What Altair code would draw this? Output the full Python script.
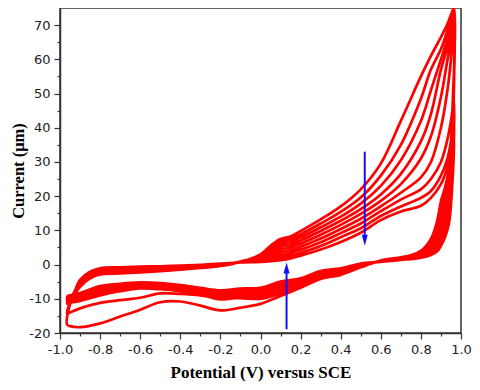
import altair as alt
import pandas as pd

# ---- data ----
# anodic sweep potentials (V) and currents for each cycle (cycle 0 = first)
ANODIC_V = [-0.94, -0.9, -0.85, -0.8, -0.7, -0.6, -0.5, -0.4, -0.3, -0.2, -0.1,
            0.0, 0.05, 0.1, 0.15, 0.2, 0.3, 0.4, 0.5, 0.6, 0.7, 0.8, 0.85, 0.9, 0.93, 0.95]
ANODIC_C0 = [-10.0, -6.5, -4.0, -2.9, -2.6, -2.3, -1.9, -1.5, -1.0, -0.4, 0.8,
             3.0, 5.5, 7.5, 8.2, 9.8, 13.2, 17.0, 22.0, 29.5, 42.0, 55.0, 61.0, 66.5, 70.0, 73.0]
ANODIC_C1 = [-9.8, -6.0, -3.6, -2.5, -2.2, -2.0, -1.7, -1.3, -0.8, -0.2, 0.9,
             2.7, 5.0, 6.8, 7.4, 8.8, 12.0, 15.4, 19.6, 26.0, 35.0, 48.5, 57.0, 63.0, 68.0, 72.0]
ANODIC_C2 = [-9.6, -5.2, -2.8, -1.8, -1.4, -1.2, -1.0, -0.8, -0.5, 0.0, 0.8,
             2.4, 4.4, 6.0, 6.6, 7.9, 10.9, 14.0, 17.8, 23.0, 30.5, 42.0, 51.0, 60.0, 65.5, 70.0]
ANODIC_C3 = [-9.5, -5.0, -2.6, -1.6, -1.3, -1.1, -0.9, -0.7, -0.4, 0.1, 0.8,
             2.1, 3.8, 5.2, 5.8, 7.0, 9.8, 12.8, 16.2, 20.5, 26.5, 36.0, 44.0, 57.0, 63.0, 68.0]
ANODIC_C4 = [-9.4, -4.9, -2.5, -1.5, -1.2, -1.0, -0.8, -0.6, -0.3, 0.1, 0.7,
             1.8, 3.2, 4.4, 5.0, 6.1, 8.7, 11.6, 14.8, 18.6, 23.5, 31.0, 37.5, 49.0, 59.0, 65.5]
ANODIC_C5 = [-9.3, -4.8, -2.4, -1.4, -1.1, -0.9, -0.7, -0.5, -0.2, 0.2, 0.7,
             1.5, 2.6, 3.6, 4.2, 5.2, 7.6, 10.4, 13.4, 17.0, 21.0, 25.5, 30.0, 40.0, 50.0, 60.0]
ANODIC_C6 = [-9.2, -4.7, -2.3, -1.3, -1.0, -0.8, -0.6, -0.4, -0.2, 0.2, 0.6,
             1.2, 2.0, 2.8, 3.4, 4.3, 6.5, 9.2, 12.0, 15.6, 19.0, 22.0, 25.0, 30.0, 36.0, 42.0]
ANODIC_C7 = [-9.1, -4.6, -2.2, -1.2, -0.9, -0.7, -0.5, -0.4, -0.1, 0.2, 0.6,
             1.0, 1.5, 2.0, 2.6, 3.4, 5.4, 8.0, 10.6, 14.2, 17.0, 19.5, 21.5, 26.0, 30.5, 36.0]
ANODIC_C8 = [-9.0, -4.5, -2.1, -1.1, -0.8, -0.6, -0.5, -0.3, -0.1, 0.3, 0.6,
             0.8, 1.0, 1.3, 1.8, 2.6, 4.4, 6.6, 9.3, 13.0, 15.5, 17.2, 19.5, 23.5, 28.0, 32.5]

# cathodic (reverse) sweep potentials (V) and currents
CATHODIC_V = [0.965, 0.955, 0.94, 0.92, 0.9, 0.88, 0.85, 0.8, 0.75, 0.7, 0.6, 0.5, 0.4, 0.3,
              0.2, 0.1, 0.0, -0.1, -0.2, -0.3, -0.4, -0.5, -0.6, -0.7, -0.8, -0.9, -0.95, -0.965]
CATHODIC_C0 = [75, 42, 28, 22.5, 18.5, 12.5, 7.5, 4.0, 2.7, 2.1, 1.2, -0.8, -3.0, -4.2,
               -6.8, -9.2, -11.5, -12.6, -13.4, -12.0, -10.8, -11.0, -13.2, -15.2, -17.2, -18.3, -18.0, -17.5]
CATHODIC_C1 = [74.5, 38, 25, 20, 16, 11, 6.6, 3.6, 2.5, 2.0, 1.1, -0.6, -2.7, -3.9,
               -6.4, -8.4, -10.0, -9.8, -9.8, -9.0, -8.6, -8.4, -9.7, -10.4, -11.2, -12.8, -14.0, -14.2]
CATHODIC_C2 = [74, 35, 23, 18, 14, 9.5, 5.8, 3.3, 2.3, 1.9, 1.1, -0.4, -2.4, -3.6,
               -6.0, -7.8, -9.4, -9.6, -10.2, -8.8, -7.8, -7.2, -7.0, -7.8, -9.0, -10.6, -11.2, -11.4]
CATHODIC_C3 = [73.5, 32, 21, 16, 12, 8.2, 5.0, 3.0, 2.2, 1.8, 1.0, -0.2, -2.1, -3.3,
               -5.6, -7.2, -8.9, -9.2, -9.6, -8.4, -7.4, -6.8, -6.5, -7.2, -8.3, -10.0, -10.6, -10.8]
CATHODIC_C4 = [73, 30, 19, 14, 10.5, 7.0, 4.4, 2.7, 2.0, 1.7, 1.0, 0.0, -1.8, -3.0,
               -5.2, -6.6, -8.4, -8.8, -9.0, -8.0, -7.0, -6.4, -6.0, -6.8, -7.8, -9.5, -10.2, -10.4]
CATHODIC_C5 = [72, 28, 17, 12, 9.0, 6.0, 3.8, 2.4, 1.9, 1.6, 0.9, 0.1, -1.6, -2.7,
               -4.8, -6.0, -7.9, -8.2, -8.5, -7.6, -6.7, -6.0, -5.7, -6.4, -7.4, -9.2, -9.8, -10.0]
CATHODIC_C6 = [48, 26, 15, 10.5, 7.5, 5.0, 3.4, 2.2, 1.8, 1.5, 0.9, 0.2, -1.4, -2.4,
               -4.5, -5.6, -7.4, -7.7, -8.0, -7.2, -6.4, -5.8, -5.5, -6.1, -7.0, -8.8, -9.5, -9.7]
CATHODIC_C7 = [43, 24, 13.5, 9.0, 6.5, 4.4, 3.0, 2.1, 1.7, 1.5, 0.8, 0.3, -1.2, -2.1,
               -4.2, -5.3, -7.0, -7.3, -7.7, -7.0, -6.2, -5.6, -5.3, -5.8, -6.6, -8.5, -9.2, -9.4]
CATHODIC_C8 = [38, 22, 12, 8.0, 5.5, 3.8, 2.8, 2.0, 1.6, 1.4, 0.8, 0.3, -1.1, -1.9,
               -4.0, -5.0, -6.8, -7.0, -7.5, -6.8, -6.0, -5.4, -5.2, -5.6, -6.3, -8.3, -9.0, -9.2]

ANODIC = [ANODIC_C0, ANODIC_C1, ANODIC_C2, ANODIC_C3, ANODIC_C4,
          ANODIC_C5, ANODIC_C6, ANODIC_C7, ANODIC_C8]
CATHODIC = [CATHODIC_C0, CATHODIC_C1, CATHODIC_C2, CATHODIC_C3, CATHODIC_C4,
            CATHODIC_C5, CATHODIC_C6, CATHODIC_C7, CATHODIC_C8]

# arrows (annotation): x position, tail current, head current
ARROW_X = [0.52, 0.13]
ARROW_TAIL = [33.0, -18.9]
ARROW_HEAD = [7.1, -1.0]

X_TICKS = [-1.0, -0.9, -0.8, -0.7, -0.6, -0.5, -0.4, -0.3, -0.2, -0.1, 0.0,
           0.1, 0.2, 0.3, 0.4, 0.5, 0.6, 0.7, 0.8, 0.9, 1.0]
Y_TICKS = [-20, -15, -10, -5, 0, 5, 10, 15, 20, 25, 30, 35, 40, 45, 50, 55, 60, 65, 70]

# ---- build one continuous CV trace ----
rows = []
k = 0
for ci in range(len(ANODIC)):
    for v, i in zip(ANODIC_V, ANODIC[ci]):
        rows.append({"V": v, "I": i, "order": k, "cycle": ci}); k += 1
    for v, i in zip(CATHODIC_V, CATHODIC[ci]):
        rows.append({"V": v, "I": i, "order": k, "cycle": ci}); k += 1
cv = pd.DataFrame(rows)

arrows = pd.DataFrame({"x": ARROW_X, "tail": ARROW_TAIL, "head": ARROW_HEAD,
                       "dir": ["down", "up"]})

xscale = alt.Scale(domain=[-1.0, 1.0], nice=False, zero=False)
yscale = alt.Scale(domain=[-20, 75], nice=False, zero=False)

label_font = "DejaVu Sans"
title_font = "Liberation Serif"

x_axis = alt.Axis(
    values=X_TICKS,
    labelExpr="abs(round(datum.value*10)) % 2 == 1 ? '' : replace(format(datum.value, '.1f'), '\u2212', '-')",
    tickSize={"condition": {"test": "abs(round(datum.value*10)) % 2 == 1", "value": 3}, "value": 6},
    labelOverlap=False, labelFlush=False, grid=False,
    labelFont=label_font, labelFontSize=13, labelColor="#222", labelPadding=4,
    title="Potential (V) versus SCE", titleFont=title_font, titleFontSize=17,
    titleFontWeight="bold", titleColor="#000", titlePadding=8,
    domainColor="#333", domainWidth=1.5, tickColor="#333", tickWidth=1.2,
)
y_axis = alt.Axis(
    values=Y_TICKS,
    labelExpr="datum.value % 10 != 0 ? '' : '' + datum.value",
    tickSize={"condition": {"test": "datum.value % 10 != 0", "value": 3}, "value": 6},
    labelOverlap=False, labelFlush=False, grid=False,
    labelFont=label_font, labelFontSize=13, labelColor="#222", labelPadding=4,
    title="Current (μm)", titleFont=title_font, titleFontSize=16.5,
    titleFontWeight="bold", titleColor="#000", titlePadding=2,
    domainColor="#333", domainWidth=1.5, tickColor="#333", tickWidth=1.2,
)

line = alt.Chart(cv).mark_line(color="#ff0000", strokeWidth=2.7, clip=True,
                               interpolate="catmull-rom").encode(
    x=alt.X("V:Q", scale=xscale, axis=x_axis),
    y=alt.Y("I:Q", scale=yscale, axis=y_axis),
    order="order:Q",
)

arrow_rule = alt.Chart(arrows).mark_rule(color="#1010ff", strokeWidth=2).encode(
    x=alt.X("x:Q", scale=xscale, axis=x_axis),
    y=alt.Y("tail:Q", scale=yscale, axis=y_axis),
    y2="head:Q",
)

DOWN = "M -0.55 -1 L 0.55 -1 L 0 1 Z"
UP = "M -0.55 1 L 0.55 1 L 0 -1 Z"
arrow_head = alt.Chart(arrows).mark_point(filled=True, color="#1010ff", opacity=1,
                                          strokeWidth=0, size=121).encode(
    x=alt.X("x:Q", scale=xscale, axis=x_axis),
    y=alt.Y("head:Q", scale=yscale, axis=y_axis),
    shape=alt.Shape("dir:N", scale=alt.Scale(domain=["down", "up"], range=[DOWN, UP]),
                    legend=None),
)

chart = alt.layer(line, arrow_rule, arrow_head).properties(
    width=401, height=325,
    autosize=alt.AutoSizeParams(type="none"),
    padding={"left": 52, "top": 0, "right": 11, "bottom": 49},
).configure_view(stroke="#333", strokeWidth=1.5).configure_axis(labelOverlap=False)

chart.save("out.html", embed_options={"renderer": "svg", "actions": False})
